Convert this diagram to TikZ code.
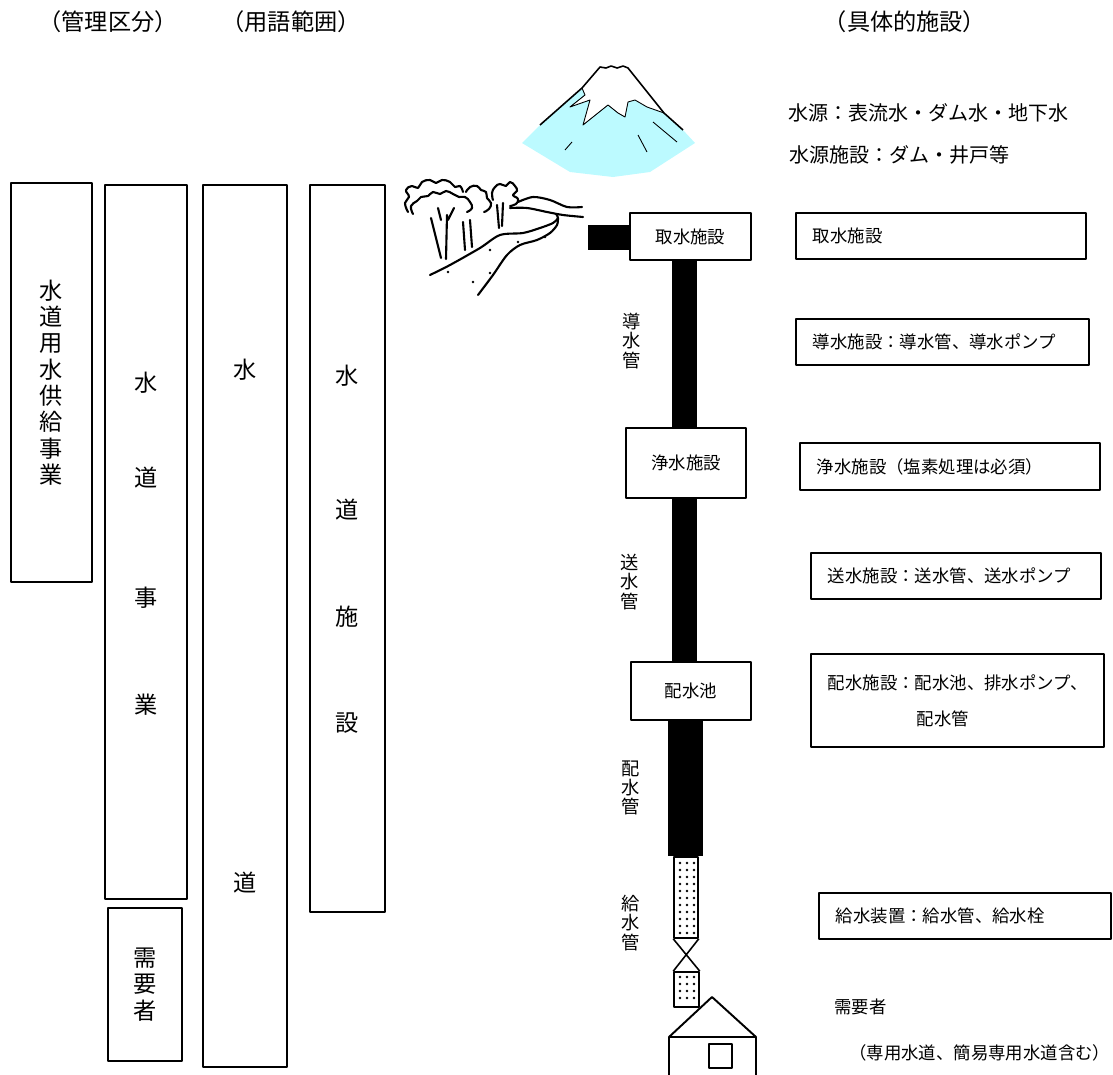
\documentclass[tikz,border=0pt]{standalone}
\usepackage{fontspec}
\setmainfont{Noto Sans CJK JP}
\usetikzlibrary{positioning, calc}
\definecolor{iceblue}{RGB}{188,250,255}

\begin{document}
\begin{tikzpicture}[x=0.02cm, y=-0.02cm, line join=round,
  box/.style={draw, line width=1.1pt, inner sep=0pt},
  sized/.style 2 args={minimum width=#1*0.02cm, minimum height=#2*0.02cm},
  head/.style={font=\fontsize{13.2}{15}\selectfont},
  big/.style={font=\fontsize{13.2}{15}\selectfont},
  mid/.style={font=\fontsize{9.9}{12}\selectfont},
  vlabel/.style={align=center, inner sep=0pt, font=\fontsize{10.4}{10.9}\selectfont},
  note/.style={anchor=west, inner sep=0pt, font=\fontsize{11.4}{14}\selectfont},
  descbox/.style={draw, line width=1.1pt, anchor=north west, align=left,
    inner xsep=17*0.02cm, inner ysep=0pt, minimum height=46*0.02cm,
    font=\fontsize{9.9}{20.4}\selectfont},
  pipe/.style={line width=0.5cm},
  sketch/.style={line width=1.2pt, line cap=round}]

  \useasboundingbox (0,0) rectangle (1113,1075);

  % column headings
  \node[head] (hmgmt) at (108,22) {（管理区分）};
  \node[head] (hterm) at (291,22) {（用語範囲）};
  \node[head] (hfac)  at (905,22) {（具体的施設）};

  % management / term columns
  \node[box, sized={81}{399}, big, align=center] (bulk) at (51.5,382.5) {水\\道\\用\\水\\供\\給\\事\\業};
  \node[box, sized={82}{714}] (utility) at (146,542) {};
  \foreach \ch/\yy [count=\i] in {水/383, 道/478, 事/598, 業/705}
    \node[big] (utility\i) at (146,\yy) {\ch};
  \node[box, sized={74}{153}, big, align=center] (users) at (145,984.5) {需\\要\\者};
  \node[box, sized={84}{882}] (waterworks) at (245,626) {};
  \foreach \ch/\yy [count=\i] in {水/370, 道/883}
    \node[big] (waterworks\i) at (245,\yy) {\ch};
  \node[box, sized={75}{727}] (facility) at (347.5,548.5) {};
  \foreach \ch/\yy [count=\i] in {水/376, 道/510, 施/617, 設/723}
    \node[big] (facility\i) at (347,\yy) {\ch};

  % mountain
  \fill[iceblue] (522,143) -- (540,125) -- (582,88) -- (585,95) -- (570,107) -- (590,100)
    -- (583,125) -- (608,105) -- (618,113) -- (625,117) -- (628,102) -- (635,100)
    -- (647,107) -- (664,113) -- (683,130) -- (695,143) -- (650,172) -- (613,177)
    -- (570,172) -- cycle;
  \draw[line width=0.9pt] (540,125) -- (582,88) -- (600,67) -- (606,68) -- (611,66)
    -- (617,68) -- (623,66) -- (628,68) -- (664,113) -- (683,130);
  \draw[line width=0.5pt] (582,88) -- (585,95) -- (570,107) -- (590,100) -- (583,125)
    -- (608,105) -- (618,113) -- (625,117) -- (628,102) -- (635,100) -- (647,107) -- (664,113);
  \draw[line width=0.5pt] (565,150) -- (572,142) (638,135) -- (647,152) (653,122) -- (677,142);

  % trees and hillside
  \draw[sketch] plot[smooth, tension=0.8] coordinates {(408,212) (405,203) (409,197) (406,190)
    (412,186) (418,188) (422,182) (430,180) (436,183) (442,180) (450,182) (455,187)
    (460,186) (463,192)};
  \draw[sketch] plot[smooth, tension=0.8] coordinates {(413,214) (411,206) (417,201) (421,197)
    (428,196) (433,192) (440,194) (446,191) (453,194) (459,197) (465,197) (470,202)
    (472,208) (467,212)};
  \draw[sketch] plot[smooth, tension=0.8] coordinates {(466,192) (470,187) (477,186) (481,190)
    (486,192) (487,198) (491,203) (489,209) (484,212)};
  \draw[sketch] plot[smooth, tension=0.8] coordinates {(493,200) (492,193) (495,187) (500,184)
    (506,186) (510,182) (515,186) (517,191) (513,195) (518,199) (516,204) (510,206)};
  \draw[sketch] (431,218) -- (441,258) (447,215) -- (446,259) (438,208) -- (441,220)
    (454,208) -- (448,220) (463,222) -- (465,250) (470,220) -- (472,247)
    (497,205) -- (499,228) (503,203) -- (502,226);
  \draw[sketch] plot[smooth] coordinates {(430,275) (450,265) (480,248) (500,235) (523,233)
    (540,228) (553,223) (558,218) (556,214)};
  \draw[sketch] plot[smooth] coordinates {(478,295) (493,275) (507,255) (520,245) (537,240)
    (550,233) (557,225) (558,218)};
  \draw[sketch] plot[smooth] coordinates {(518,202) (533,197) (550,200) (567,207) (582,207)};
  \draw[sketch] plot[smooth] coordinates {(510,208) (527,208) (547,212) (563,215) (583,217)};
  \foreach \p in {(448,272), (473,282), (490,250), (490,273), (518,242), (545,237)}
    \fill \p circle[radius=0.8pt];

  % source notes
  \node[note] (source)   at (788,113) {水源：表流水・ダム水・地下水};
  \node[note] (sourcefac) at (789,155) {水源施設：ダム・井戸等};

  % treatment chain
  \node[box, sized={121}{47}, mid] (intake)    at (690.5,236.5) {取水施設};
  \node[box, sized={120}{70}, mid] (purify)    at (686,463)     {浄水施設};
  \node[box, sized={120}{58}, mid] (reservoir) at (691,691)     {配水池};
  \node[box, line width=0.9pt, sized={24}{81}] (service) at (686,897.5) {};
  \node[box, line width=0.9pt, sized={25}{35}] (meter)   at (686.5,989.5) {};

  \coordinate (axis)  at (684.5,0);
  \coordinate (axisw) at (685.5,0);
  \coordinate (stub)  at (588,237.5);
  \draw[pipe] (stub) -- (stub -| intake.west);
  \draw[pipe] (axis |- intake.south) -- (axis |- purify.north);
  \draw[pipe] (axis |- purify.south) -- (axis |- reservoir.north);
  \draw[pipe, line width=0.7cm] (axisw |- reservoir.south) -- (axisw |- service.north);
  \draw[line width=0.9pt] (service.south west) -- (meter.north east)
    (service.south east) -- (meter.north west);
  \foreach \yy in {863,870,...,933}
    \foreach \xx in {680,687,694}
      \fill (\xx,\yy) circle[radius=0.75pt];
  \foreach \yy in {977,984,...,1003}
    \foreach \xx in {680,687,694}
      \fill (\xx,\yy) circle[radius=0.75pt];

  % pipe names
  \node[vlabel] (conduit)  at (632,341) {導\\水\\管};
  \node[vlabel] (transmit) at (630,582) {送\\水\\管};
  \node[vlabel] (distrib)  at (631,788) {配\\水\\管};
  \node[vlabel] (supplyp)  at (631,923) {給\\水\\管};

  % house
  \draw[line width=1.1pt] (669,1075) -- (669,1037) -- (712,997) -- (756,1037) -- (756,1075)
    (669,1037) -- (756,1037);
  \draw[line width=1.1pt] (709,1044) rectangle (732,1068);

  % facility descriptions
  \node[descbox, text width=5.12cm] (dintake)  at (795,212) {取水施設};
  \node[descbox, text width=5.18cm] (dconduit) at (795,318) {導水施設：導水管、導水ポンプ};
  \node[descbox, text width=5.32cm, minimum height=47*0.02cm] (dpurify) at (799,442) {浄水施設（塩素処理は必須）};
  \node[descbox, text width=5.12cm] (dtransmit) at (810,552) {送水施設：送水管、送水ポンプ};
  \node[descbox, text width=5.18cm, minimum height=93*0.02cm] (ddistrib) at (810,653)
    {配水施設：配水池、排水ポンプ、\\\hspace*{5.1em}配水管};
  \node[descbox, text width=5.16cm] (dservice) at (818,892) {給水装置：給水管、給水栓};

  \node[note, mid] (consumer) at (834,1007) {需要者};
  \node[note, mid] (consnote) at (849,1053) {（専用水道、簡易専用水道含む）};
\end{tikzpicture}
\end{document}
